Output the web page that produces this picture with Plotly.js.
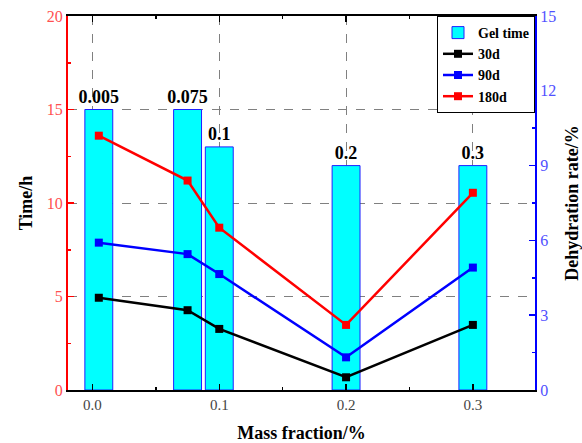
<!DOCTYPE html>
<html>
<head>
<meta charset="utf-8">
<script src="https://cdn.plot.ly/plotly-3.0.1.min.js"></script>
<style>html,body{margin:0;padding:0;background:#fff;}#chart{width:582px;height:443px;}</style>
</head>
<body>
<div id="chart"></div>
<script>
// Data
const massFraction = [0.005, 0.075, 0.1, 0.2, 0.3];
const barLabels = ['0.005', '0.075', '0.1', '0.2', '0.3'];
const gelTime = [15, 15, 13, 12, 12];
const rate30d = [3.70, 3.2, 2.45, 0.51, 2.61];
const rate90d = [5.91, 5.45, 4.65, 1.31, 4.91];
const rate180d = [10.2, 8.40, 6.51, 2.61, 7.91];
const xTickVals = [0.0, 0.1, 0.2, 0.3];
const xTickText = ['0.0', '0.1', '0.2', '0.3'];

const serif = "'Liberation Serif', 'Times New Roman', serif";

const traces = [
  {
    type: 'bar', name: 'Gel time', x: massFraction, y: gelTime,
    width: 0.022,
    marker: {color: '#00ffff', line: {color: '#2020ff', width: 1}},
    text: barLabels, texttemplate: '<b>%{text}</b>', textposition: 'outside',
    constraintext: 'none',
    textfont: {family: serif, size: 18, color: '#000'},
    cliponaxis: false, yaxis: 'y'
  },
  {
    type: 'scatter', mode: 'lines+markers', name: '30d', x: massFraction, y: rate30d,
    line: {color: '#000000', width: 2.5}, marker: {symbol: 'square', size: 8, color: '#000000'},
    yaxis: 'y2'
  },
  {
    type: 'scatter', mode: 'lines+markers', name: '90d', x: massFraction, y: rate90d,
    line: {color: '#0000ff', width: 2.5}, marker: {symbol: 'square', size: 8, color: '#0000ff'},
    yaxis: 'y2'
  },
  {
    type: 'scatter', mode: 'lines+markers', name: '180d', x: massFraction, y: rate180d,
    line: {color: '#ff0000', width: 2.5}, marker: {symbol: 'square', size: 8, color: '#ff0000'},
    yaxis: 'y2'
  }
];

const layout = {
  width: 582, height: 443,
  margin: {l: 68, r: 47, t: 16, b: 53},
  paper_bgcolor: '#fff', plot_bgcolor: '#fff',
  showlegend: true,
  legend: {
    x: 1, xanchor: 'right', y: 1, yanchor: 'top',
    bgcolor: '#fff', bordercolor: '#000', borderwidth: 1,
    font: {family: serif, size: 14, color: '#000', weight: 'bold'},
    tracegroupgap: 0, itemwidth: 30
  },
  xaxis: {
    range: [-0.0193, 0.349],
    tickvals: xTickVals, ticktext: xTickText,
    ticks: 'inside', ticklen: 6, tickwidth: 1.5, tickcolor: '#000',
    minor: {tickvals: [0.05, 0.15, 0.25], ticks: 'inside', ticklen: 3, tickcolor: '#000', showgrid: false},
    showline: true, linecolor: '#000', linewidth: 2, mirror: 'ticks',
    showgrid: true, gridcolor: '#808080', griddash: 'dash', gridwidth: 1,
    zeroline: false,
    tickfont: {family: serif, size: 15, color: '#444'},
    title: {text: '<b>Mass fraction/%</b>', font: {family: serif, size: 18, color: '#000'}, standoff: 14}
  },
  yaxis: {
    range: [0, 20], dtick: 5, tick0: 0,
    ticks: 'inside', ticklen: 6, tickwidth: 1.5, tickcolor: '#ff0000',
    minor: {dtick: 2.5, ticks: 'inside', ticklen: 3, tickcolor: '#ff0000', showgrid: false},
    showline: true, linecolor: '#ff0000', linewidth: 2,
    showgrid: true, gridcolor: '#808080', griddash: 'dash', gridwidth: 1,
    zeroline: false,
    tickfont: {family: serif, size: 16, color: '#ff5050'},
    title: {text: '<b>Time/h</b>', font: {family: serif, size: 18, color: '#000'}, standoff: 9}
  },
  yaxis2: {
    range: [0, 15], dtick: 3, tick0: 0,
    overlaying: 'y', side: 'right',
    ticks: 'inside', ticklen: 6, tickwidth: 1.5, tickcolor: '#0000ff',
    minor: {dtick: 1.5, ticks: 'inside', ticklen: 3, tickcolor: '#0000ff', showgrid: false},
    showline: true, linecolor: '#0000ff', linewidth: 2,
    showgrid: false, zeroline: false,
    tickfont: {family: serif, size: 16, color: '#5050ff'},
    title: {text: '<b>Dehydration rate/%</b>', font: {family: serif, size: 18, color: '#000'}, standoff: 12}
  },
  bargap: 0
};

Plotly.newPlot('chart', traces, layout, {displayModeBar: false, staticPlot: true});
</script>
</body>
</html>
